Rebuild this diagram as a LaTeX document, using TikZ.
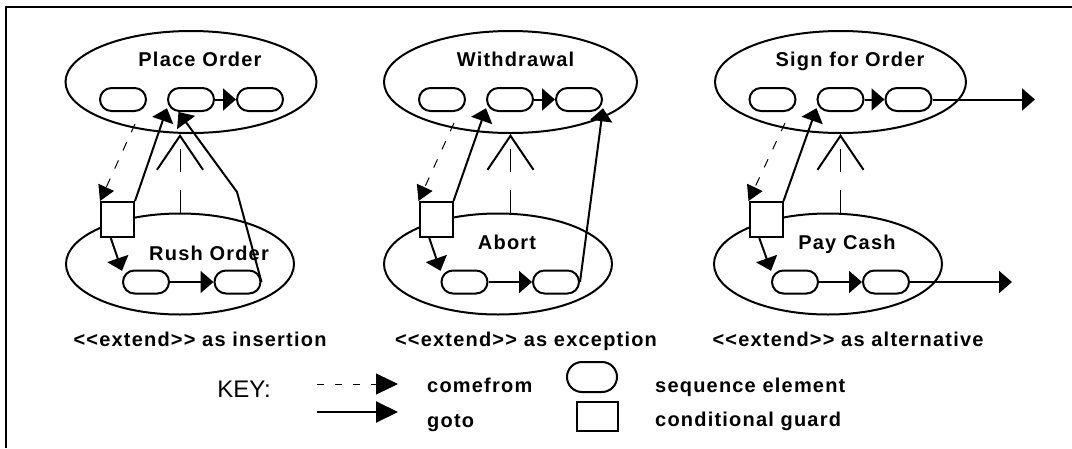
\documentclass[tikz,border=0pt]{standalone}
\usepackage{fontspec}
\setmainfont{Liberation Sans}
\newfontfamily\lblfont[LetterSpace=6]{Liberation Sans}
\usetikzlibrary{shapes.geometric,arrows.meta}

\begin{document}
\begin{tikzpicture}[x=1pt,y=-1pt,
    uc/.style={draw, ellipse, line width=2pt, inner sep=0pt},
    seq/.style={draw, fill=white, line width=2pt, rounded corners=11.5pt, minimum width=46pt, minimum height=23pt, inner sep=0pt},
    guard/.style={draw, fill=white, line width=2pt, minimum width=33pt, minimum height=35pt, inner sep=0pt},
    lbl/.style={font=\lblfont\bfseries\fontsize{20}{24}\selectfont, anchor=base, inner sep=0pt},
    goto/.style={line width=2pt, -{Triangle[length=13pt,width=22pt]}},
    comefrom/.style={line width=1pt, dash pattern=on 9pt off 11pt, -{Triangle[length=15pt,width=17pt]}},
    extend/.style={line width=1pt, dash pattern=on 23pt off 18pt, -{Straight Barb[length=34pt,width=46pt,line width=2pt]}}]
    \useasboundingbox (0,0) rectangle (1072,448);

    % Frame
    \draw[line width=2.5pt] (6,448) -- (6,7) -- (1072,7);

    % Use cases (insertion)
    \node[uc, minimum width=251pt, minimum height=102pt] (po) at (191,82) {};
    \node[uc, minimum width=228pt, minimum height=101pt] (ro) at (180,264) {};
    \node[lbl] (tpo) at (200,66.7) {Place Order};
    \node[lbl] (tro) at (209,260) {Rush Order};

    % Use cases (exception)
    \node[uc, minimum width=253pt, minimum height=102pt] (wd) at (510.5,82) {};
    \node[uc, minimum width=228pt, minimum height=101pt] (ab) at (498,264) {};
    \node[lbl] (twd) at (515.5,66) {Withdrawal};
    \node[lbl] (tab) at (507,249) {Abort};

    % Use cases (alternative)
    \node[uc, minimum width=251pt, minimum height=102pt] (sf) at (840.5,82) {};
    \node[uc, minimum width=228pt, minimum height=101pt] (pc) at (828,264) {};
    \node[lbl] (tsf) at (850,66) {Sign for Order};
    \node[lbl] (tpc) at (847,249) {Pay Cash};

    % Sequence elements
    \node[seq] (p1) at (123,99.5) {};
    \node[seq] (p2) at (191,99.5) {};
    \node[seq] (p3) at (260,99.5) {};
    \node[seq] (r1) at (146,282) {};
    \node[seq] (r2) at (237.5,282) {};
    \node[seq] (w1) at (442,99.5) {};
    \node[seq] (w2) at (510,99.5) {};
    \node[seq] (w3) at (579,99.5) {};
    \node[seq] (a1) at (464.5,282) {};
    \node[seq] (a2) at (556,282) {};
    \node[seq] (f1) at (772.5,99.5) {};
    \node[seq] (f2) at (840.5,99.5) {};
    \node[seq] (f3) at (908.5,99.5) {};
    \node[seq] (c1) at (795,282) {};
    \node[seq] (c2) at (886,282) {};

    % Conditional guards
    \node[guard] (g1) at (117.5,219.5) {};
    \node[guard] (g2) at (436,219.5) {};
    \node[guard] (g3) at (766,219.5) {};

    % Extend relations
    \draw[extend] (ro.north) -- (ro.north |- po.south);
    \draw[extend] (ab.north -| wd.south) -- (wd.south);
    \draw[extend] (pc.north -| sf.south) -- (sf.south);

    % Comefrom
    \coordinate (cf1) at (135,124);
    \coordinate (cf2) at (454,123);
    \coordinate (cf3) at (785,123);
    \draw[comefrom] (cf1) -- (g1.north west);
    \draw[comefrom] (cf2) -- (g2.north west);
    \draw[comefrom] (cf3) -- (g3.north west);

    % Goto: insertion
    \draw[goto] (p2) -- (p3);
    \draw[goto] (r1) -- (r2);
    \draw[goto] (g1.north east) -- (p2.200);
    \draw[goto] (g1.250) -- (r1.155);
    \coordinate (bend1) at (237,192);
    \draw[goto] (r2.east) -- (bend1) -- (p2.225);

    % Goto: exception
    \draw[goto] (w2) -- (w3);
    \draw[goto] (a1) -- (a2);
    \draw[goto] (g2.north east) -- (w2.200);
    \draw[goto] (g2.250) -- (a1.155);
    \draw[goto] (a2.east) -- (w3.340);

    % Goto: alternative
    \draw[goto] (f2) -- (f3);
    \draw[goto] (c1) -- (c2);
    \draw[goto] (g3.north east) -- (f2.200);
    \draw[goto] (g3.250) -- (c1.155);
    \coordinate (fout) at (1035,99.5);
    \coordinate (cout) at (1012,282);
    \draw[goto] (f3.east) -- (fout);
    \draw[goto] (c2.east) -- (cout);

    % Captions
    \node[lbl] (cap1) at (200,346) {<<extend>> as insertion};
    \node[lbl] (cap2) at (526,346) {<<extend>> as exception};
    \node[lbl] (cap3) at (848,346) {<<extend>> as alternative};

    % Key
    \node[anchor=base, inner sep=0pt, font=\fontsize{24}{28}\selectfont] (key) at (244,397) {KEY:};
    \coordinate (cfA) at (317,384);
    \coordinate (cfB) at (398,384);
    \coordinate (gtA) at (317,412);
    \coordinate (gtB) at (398,412);
    \draw[line width=1pt, dash pattern=on 7pt off 11pt, -{Triangle[length=22pt,width=21pt]}] (cfA) -- (cfB);
    \draw[line width=2pt, -{Triangle[length=22pt,width=21pt]}] (gtA) -- (gtB);
    \node[lbl, anchor=base west] (kcf) at (427,392) {comefrom};
    \node[lbl, anchor=base west] (kgt) at (427,427) {goto};
    \node[draw, line width=2pt, rounded corners=15pt, minimum width=50pt, minimum height=30pt, inner sep=0pt] (kseq) at (592,377) {};
    \node[draw, line width=2pt, minimum width=41pt, minimum height=29pt, inner sep=0pt] (kgd) at (597,416) {};
    \node[lbl, anchor=base west] (kse) at (655,392) {sequence element};
    \node[lbl, anchor=base west] (kcg) at (655,426) {conditional guard};
\end{tikzpicture}
\end{document}
